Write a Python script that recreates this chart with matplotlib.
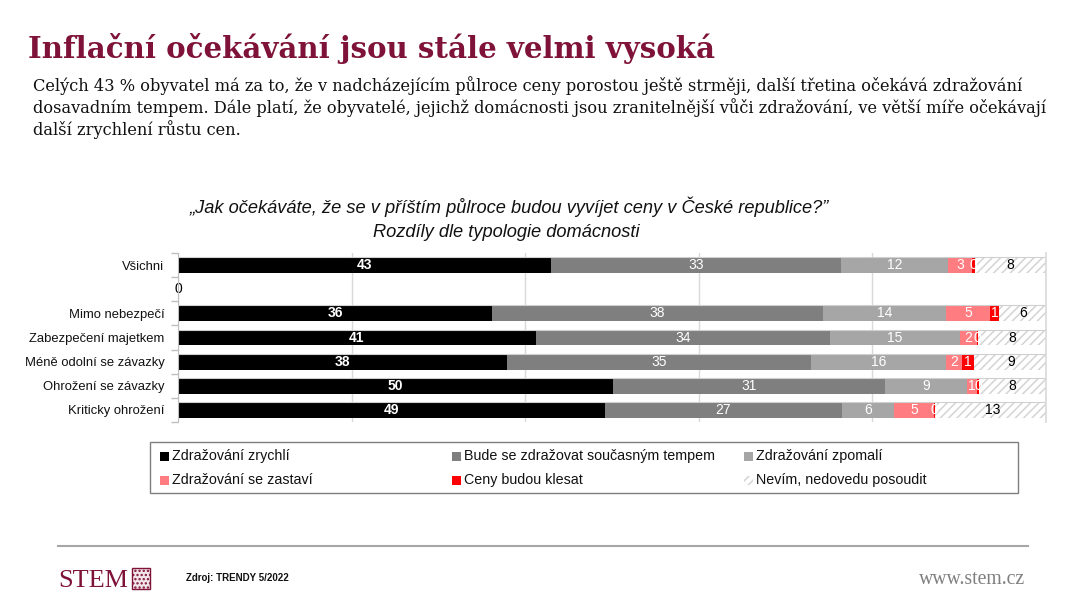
import matplotlib
matplotlib.use('Agg')
import matplotlib.pyplot as plt
from matplotlib import font_manager as fm
from matplotlib.patches import Rectangle
from matplotlib.lines import Line2D

# ---------------- data ----------------
categories = ["Všichni", "", "Mimo nebezpečí", "Zabezpečení majetkem",
              "Méně odolní se závazky", "Ohrožení se závazky", "Kriticky ohrožení"]
series_names = ["Zdražování zrychlí", "Bude se zdražovat současným tempem",
                "Zdražování zpomalí", "Zdražování se zastaví",
                "Ceny budou klesat", "Nevím, nedovedu posoudit"]
zrychli  = [43.0, 0, 36.2, 41.2, 37.9, 50.1, 49.2]
soucasne = [33.4, 0, 38.1, 33.9, 35.0, 31.4, 27.3]
zpomali  = [12.3, 0, 14.2, 15.0, 15.6, 9.4, 6.0]
zastavi  = [2.8, 0, 5.0, 1.9, 1.8, 1.2, 4.6]
klesat   = [0.3, 0, 1.1, 0.2, 1.4, 0.2, 0.1]
nevim    = [8.2, 0, 5.6, 7.8, 8.6, 7.7, 13.3]
series = [zrychli, soucasne, zpomali, zastavi, klesat, nevim]

title = "Inflační očekávání jsou stále velmi vysoká"
subtitle = ["Celých 43 % obyvatel má za to, že v nadcházejícím půlroce ceny porostou ještě strměji, další třetina očekává zdražování",
            "dosavadním tempem. Dále platí, že obyvatelé, jejichž domácnosti jsou zranitelnější vůči zdražování, ve větší míře očekávají",
            "další zrychlení růstu cen."]
chart_title = ["\u201eJak očekáváte, že se v příštím půlroce budou vyvíjet ceny v České republice?\u201d",
               "Rozdíly dle typologie domácnosti"]
source = "Zdroj: TRENDY 5/2022"

# ---------------- style ----------------
colors = ['#000000', '#7f7f7f', '#a6a6a6', '#ff7c80', '#ff0000', '#ffffff']
label_colors = ['white', 'white', 'white', 'white', 'white', 'black']
maroon = '#7f1238'

def has_font(name):
    try:
        fm.findfont(fm.FontProperties(family=name), fallback_to_default=False)
        return True
    except Exception:
        return False

narrow = 'Liberation Sans Narrow' if has_font('Liberation Sans Narrow') else 'Liberation Sans'
SANS = [narrow, 'DejaVu Sans']
plt.rcParams['font.family'] = SANS
plt.rcParams['hatch.linewidth'] = 1.1

W, H = 1074, 603
fig = plt.figure(figsize=(W / 100, H / 100), dpi=100)
renderer = fig.canvas.get_renderer()

def px(x, y):
    return x / W, 1 - y / H

def fit(t, width_px):
    bb = t.get_window_extent(renderer)
    t.set_fontsize(t.get_fontsize() * width_px / bb.width)
    return t.get_fontsize()

# ---------------- axes ----------------
x0, x100 = 178, 1046
ytop, ybot = 253, 422
ax = fig.add_axes([x0 / W, 1 - ybot / H, (x100 - x0) / W, (ybot - ytop) / H])
ypos = list(range(len(categories)))
left = [0.0] * len(categories)
bar_h = 0.66
for i, vals in enumerate(series):
    if i == 5:
        ax.barh(ypos, vals, left=left, height=bar_h, color=colors[i],
                edgecolor='#d4d4d4', linewidth=0, hatch='////', zorder=2)
    else:
        ax.barh(ypos, vals, left=left, height=bar_h, color=colors[i],
                linewidth=0, zorder=2)
    for j, v in enumerate(vals):
        ax.text(left[j] + v / 2, ypos[j], f"{v:.0f}", ha='center', va='center',
                color=label_colors[i], fontsize=10, zorder=5,
                fontweight='bold' if i == 0 else 'normal')
    left = [l + v for l, v in zip(left, vals)]

# thin line at bar tops
for j in ypos:
    if j != 1:
        ax.plot([0, 100], [j - bar_h / 2, j - bar_h / 2], color='#d0d0d0', lw=0.8, zorder=3)

ax.set_xlim(0, 100)
ax.set_ylim(len(categories) - 0.5, -0.5)
ax.set_xticks([0, 20, 40, 60, 80, 100])
ax.xaxis.grid(True, color='#d9d9d9', lw=1, zorder=0)
ax.axvline(100, color='#d9d9d9', lw=1.2, zorder=4, clip_on=False)
ax.set_axisbelow(True)
ax.tick_params(axis='x', length=0, labelbottom=False)
ax.set_yticks(ypos)
ax.set_yticklabels(categories, fontsize=10, color='#111111')
ax.set_yticks([p + 0.5 for p in [-1] + ypos], minor=True)
ax.tick_params(axis='y', which='major', length=0, pad=9.7)
ax.tick_params(axis='y', which='minor', length=5, color='#bfbfbf', width=1)
for s in ['top', 'right', 'bottom']:
    ax.spines[s].set_visible(False)
ax.spines['left'].set_color('#bfbfbf')
ax.spines['left'].set_zorder(6)

# fit category label size close to reference width
ref_lbl = [t for t in ax.get_yticklabels() if t.get_text() == "Méně odolní se závazky"][0]
cat_fs = 10 * 140 / ref_lbl.get_window_extent(renderer).width
for t in ax.get_yticklabels():
    t.set_fontsize(cat_fs)

# ---------------- titles ----------------
t = fig.text(*px(28, 58), title, fontsize=22, fontweight='bold',
             family=['DejaVu Serif'], color=maroon, va='baseline', ha='left')
fit(t, 684)

ts = []
for k, line in enumerate(subtitle):
    tt = fig.text(*px(33, 91 + 22 * k), line, fontsize=12, family=['DejaVu Serif'],
                  color='#111111', va='baseline', ha='left')
    ts.append(tt)
fs = fit(ts[0], 984)
for tt in ts[1:]:
    tt.set_fontsize(fs)

c1 = fig.text(*px(509, 213), chart_title[0], fontsize=14, style='italic',
              ha='center', va='baseline', color='#111111')
fs = fit(c1, 642)
fig.text(*px(506, 237), chart_title[1], fontsize=fs, style='italic',
         ha='center', va='baseline', color='#111111')

# ---------------- legend ----------------
fig.add_artist(Rectangle(px(150, 493), (1018 - 150) / W, (493 - 442) / H,
                         transform=fig.transFigure, facecolor='none',
                         edgecolor='#7f7f7f', lw=1))
col_x = [160, 452, 744]
row_y = [456, 480]
leg_texts = []
for k, name in enumerate(series_names):
    cx = col_x[k % 3]
    cy = row_y[k // 3]
    sq = 9
    if k == 5:
        r = Rectangle(px(cx, cy + sq / 2), sq / W, sq / H, transform=fig.transFigure,
                      facecolor='white', edgecolor='#d4d4d4', lw=0, hatch='////')
    else:
        r = Rectangle(px(cx, cy + sq / 2), sq / W, sq / H, transform=fig.transFigure,
                      facecolor=colors[k], lw=0)
    fig.add_artist(r)
    lt = fig.text(*px(cx + 12, cy), name, fontsize=10.5,
                  ha='left', va='center', color='#111111')
    leg_texts.append(lt)
leg_fs = fit(leg_texts[1], 252)
for lt in leg_texts:
    lt.set_fontsize(leg_fs)

# ---------------- footer ----------------
fig.add_artist(Line2D([58 / W, 1028 / W], [1 - 546 / H] * 2, transform=fig.transFigure,
                      color='#a6a6a6', lw=1.5))
st = fig.text(*px(58, 587), "STEM", family=['Liberation Serif'], fontsize=19,
              color=maroon, ha='left', va='baseline')
fit(st, 70)
fig.add_artist(Rectangle(px(132, 589), 18 / W, 21 / H, transform=fig.transFigure,
                         facecolor='#f3e6ea', edgecolor=maroon, lw=1, hatch='....'))
fig.text(*px(186, 578), source, fontsize=7, fontweight='bold', ha='left',
         va='center', color='#111111')
wt = fig.text(*px(1025, 584), "www.stem.cz", family=['Liberation Serif'], fontsize=13,
              color='#7f7f7f', ha='right', va='baseline')
fit(wt, 106)

fig.savefig('out.png', dpi=100)
